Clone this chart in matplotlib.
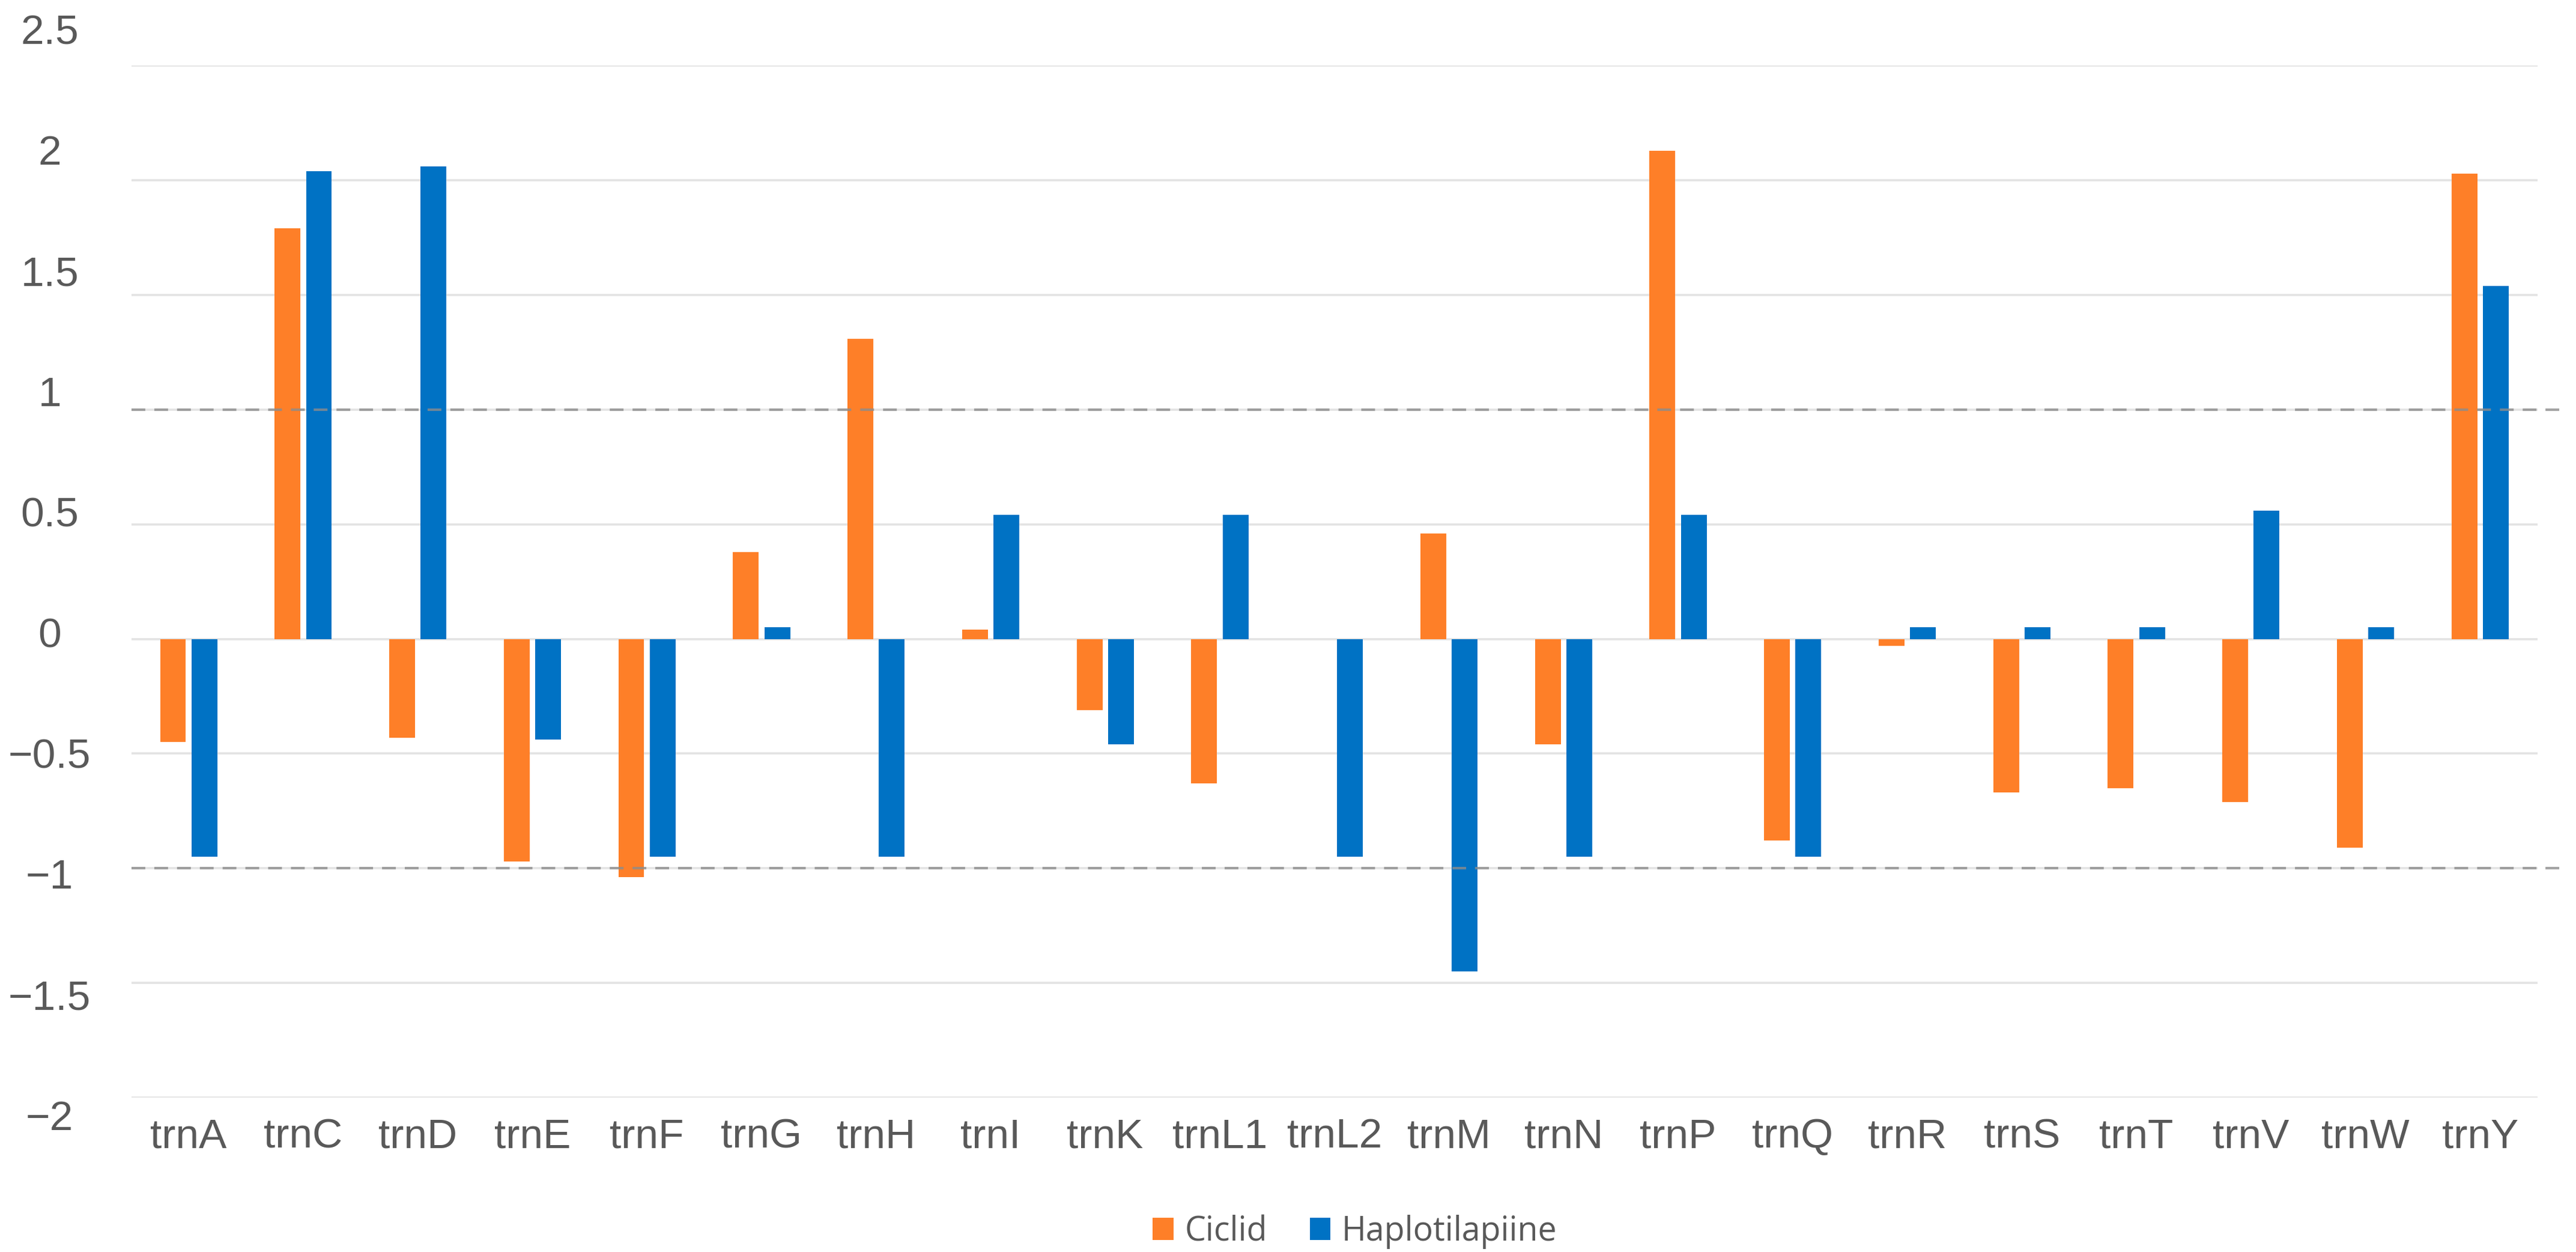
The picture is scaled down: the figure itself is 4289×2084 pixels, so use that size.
import numpy as np
import matplotlib
matplotlib.use('Agg')
import matplotlib.pyplot as plt
import matplotlib.transforms as mtransforms

# data
genes = ['trnA', 'trnC', 'trnD', 'trnE', 'trnF', 'trnG', 'trnH', 'trnI', 'trnK', 'trnL1', 'trnL2',
         'trnM', 'trnN', 'trnP', 'trnQ', 'trnR', 'trnS', 'trnT', 'trnV', 'trnW', 'trnY']
ciclid = [-0.45, 1.79, -0.43, -0.97, -1.04, 0.38, 1.31, 0.04, -0.31, -0.63, 0.0,
          0.46, -0.46, 2.13, -0.88, -0.03, -0.67, -0.65, -0.71, -0.91, 2.03]
haplo = [-0.95, 2.04, 2.06, -0.44, -0.95, 0.05, -0.95, 0.54, -0.46, 0.54, -0.95,
         -1.45, -0.95, 0.54, -0.95, 0.05, 0.05, 0.05, 0.56, 0.05, 1.54]
yticks = [-2, -1.5, -1, -0.5, 0, 0.5, 1, 1.5, 2, 2.5]
cutoffs = [1, -1]

orange = '#FE7F28'
blue = '#0072C4'
txt = '#595959'

plt.rcParams['font.family'] = ['Liberation Sans', 'DejaVu Sans']

fig = plt.figure(figsize=(42.89, 20.84), dpi=100)
ax = fig.add_axes([0.051, 0.1234, 0.934, 0.8241])

x = np.arange(len(genes))
w = 0.225
off = 0.137
ax.bar(x - off, ciclid, w, color=orange, linewidth=0, label='Ciclid', zorder=3)
ax.bar(x + off, haplo, w, color=blue, linewidth=0, label='Haplotilapiine', zorder=3)

ax.set_xlim(-0.5, len(genes) - 0.5)
ax.set_ylim(-2, 2.5)
ax.set_yticks(yticks)
ax.set_yticklabels([f'{v:g}'.replace('-', '\u2212') for v in yticks])
ax.set_xticks(x)
ax.set_xticklabels(genes)

ax.yaxis.grid(True, color='#E3E3E3', linewidth=2.6, zorder=0)
ax.set_axisbelow(True)
for s in ax.spines.values():
    s.set_visible(False)

ax.tick_params(axis='both', length=0, labelsize=50, colors=txt)
ax.tick_params(axis='y', pad=98)
ax.tick_params(axis='x', pad=24)

# in the original the value labels are spread a bit wider than the gridlines
for t, v in zip(ax.get_yticklabels(), yticks):
    t.set_ha('center')
    shift = (11 + 20 * v) / 100.0
    t.set_transform(t.get_transform() + mtransforms.ScaledTranslation(0, shift, fig.dpi_scale_trans))

# dashed threshold lines, running slightly past the plot area
trans = mtransforms.blended_transform_factory(ax.transAxes, ax.transData)
for c in cutoffs:
    ax.plot([0, 1.0097], [c, c], transform=trans, color='#8C8C8C', alpha=0.8,
            linewidth=3.0, dashes=(5.5, 3.6), clip_on=False, zorder=4)

fig.legend(loc='center', bbox_to_anchor=(0.526, 0.016), ncol=2, frameon=False,
           prop={'family': ['Open Sans', 'DejaVu Sans'], 'size': 40},
           labelcolor=txt, handlelength=0.62, handleheight=0.66,
           handletextpad=0.34, columnspacing=1.27)

fig.savefig('out.png', dpi=100, facecolor='white')
